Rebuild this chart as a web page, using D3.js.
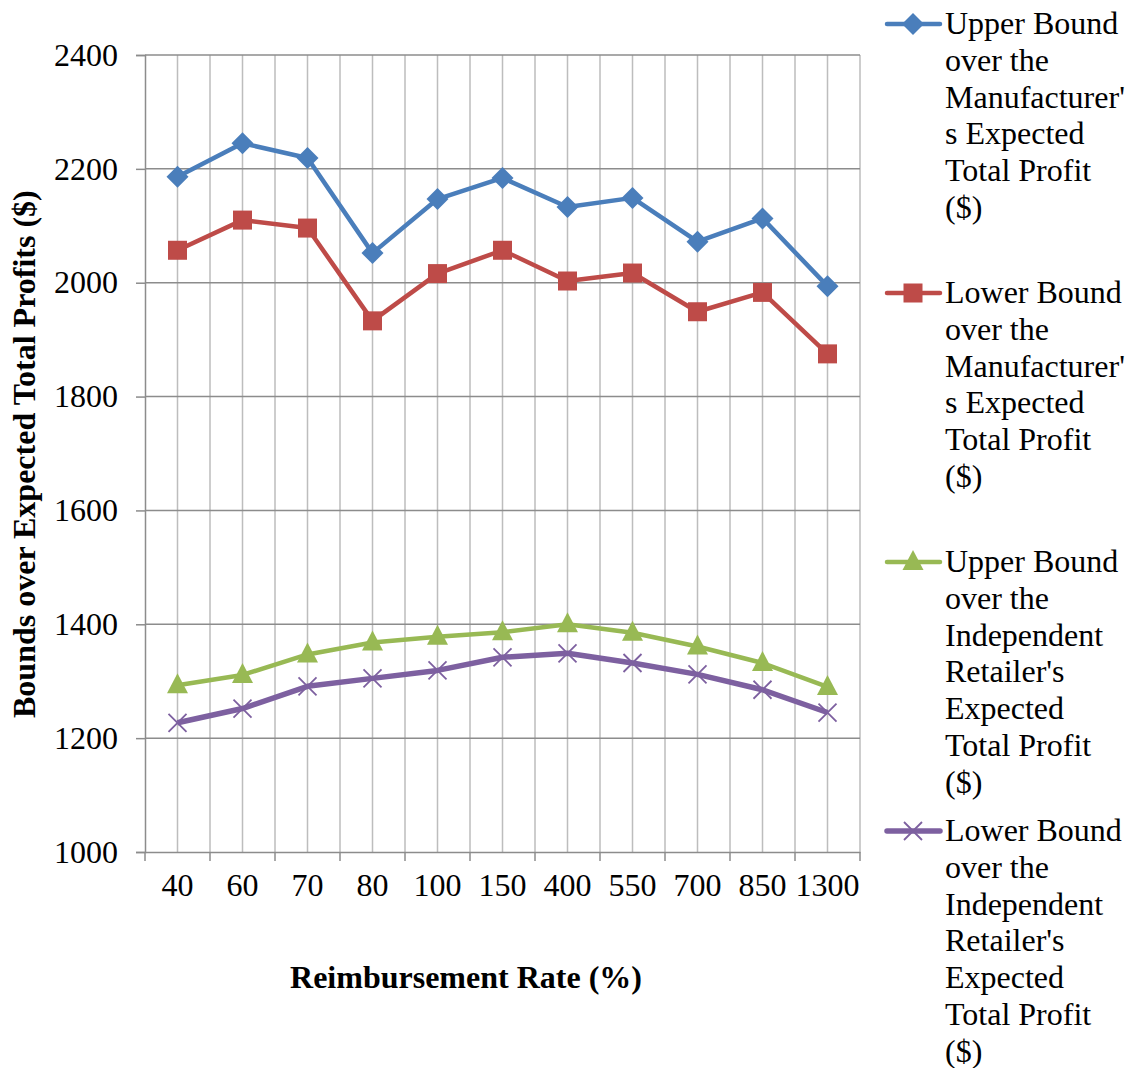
<!DOCTYPE html>
<html>
<head>
<meta charset="utf-8">
<script src="https://cdn.jsdelivr.net/npm/d3@7"></script>
<style>
  body { margin: 0; background: #fff; }
  text { font-family: "Liberation Serif", "Times New Roman", serif; fill: #000; }
</style>
</head>
<body>
<svg id="chart" width="1131" height="1068"></svg>
<script>
// data
var rates = ["40", "60", "70", "80", "100", "150", "400", "550", "700", "850", "1300"];
var upperManufacturer = [2186, 2245, 2219, 2052, 2147, 2184, 2133, 2149, 2072, 2113, 1994];
var lowerManufacturer = [2057, 2110, 2096, 1933, 2016, 2057, 2003, 2017, 1949, 1983, 1875];
var upperRetailer = [1293, 1311, 1347, 1368, 1378, 1386, 1400, 1385, 1361, 1332, 1290];
var lowerRetailer = [1227, 1252, 1291, 1305, 1319, 1342, 1349, 1332, 1312, 1285, 1245];
var yTicks = [1000, 1200, 1400, 1600, 1800, 2000, 2200, 2400];
var seriesNames = [
    ["Upper Bound", "over the", "Manufacturer'", "s Expected", "Total Profit", "($)"],
    ["Lower Bound", "over the", "Manufacturer'", "s Expected", "Total Profit", "($)"],
    ["Upper Bound", "over the", "Independent", "Retailer's", "Expected", "Total Profit", "($)"],
    ["Lower Bound", "over the", "Independent", "Retailer's", "Expected", "Total Profit", "($)"]
];

var series = [
    {values: upperManufacturer, color: "#4a7ebb", marker: "diamond", width: 4.5},
    {values: lowerManufacturer, color: "#be4b48", marker: "square", width: 4.5},
    {values: upperRetailer, color: "#98b954", marker: "triangle", width: 4.5},
    {values: lowerRetailer, color: "#7d60a0", marker: "x", width: 5.5}
];

var svg = d3.select("#chart");

var plotLeft = 145, plotRight = 860, plotTop = 55, plotBottom = 852;
var fontSize = "32px";

var x = d3.scaleBand().domain(rates).range([plotLeft, plotRight]);
var y = d3.scaleLinear().domain([1000, 2400]).range([plotBottom, plotTop]);

// vertical gridlines at category edges and centres
var vLines = [];
rates.forEach(function(r, i) {
    if (i > 0) vLines.push(x(r));
    vLines.push(x(r) + x.bandwidth() / 2);
});
vLines.push(plotRight);

svg.append("g").selectAll("line")
    .data(vLines)
    .enter().append("line")
    .attr("x1", function(d) { return d; })
    .attr("x2", function(d) { return d; })
    .attr("y1", plotTop)
    .attr("y2", plotBottom)
    .attr("stroke", "#bdbdbd")
    .attr("stroke-width", 1.5);

svg.append("g").selectAll("line")
    .data(yTicks.slice(1))
    .enter().append("line")
    .attr("x1", plotLeft)
    .attr("x2", plotRight)
    .attr("y1", function(d) { return y(d); })
    .attr("y2", function(d) { return y(d); })
    .attr("stroke", "#8c8c8c")
    .attr("stroke-width", 1.5);

// y axis
var yAxis = svg.append("g")
    .attr("transform", "translate(" + plotLeft + ",0)")
    .call(d3.axisLeft(y).tickValues(yTicks).tickSize(9).tickPadding(18).tickFormat(d3.format("d")));
yAxis.select(".domain").attr("stroke", "#8c8c8c").attr("stroke-width", 1.5);
yAxis.selectAll(".tick line").attr("stroke", "#8c8c8c").attr("stroke-width", 1.5);
yAxis.selectAll(".tick text")
    .style("font-family", "'Liberation Serif', serif")
    .style("font-size", fontSize)
    .attr("fill", "#000");

// x axis
var xAxis = svg.append("g")
    .attr("transform", "translate(0," + plotBottom + ")")
    .call(d3.axisBottom(x).tickSize(0).tickPadding(21));
xAxis.select(".domain").attr("stroke", "#8c8c8c").attr("stroke-width", 1.5);
xAxis.selectAll(".tick text")
    .style("font-family", "'Liberation Serif', serif")
    .style("font-size", fontSize)
    .attr("fill", "#000");
xAxis.append("g").selectAll("line")
    .data(rates.map(function(r) { return x(r); }).concat([plotRight]))
    .enter().append("line")
    .attr("x1", function(d) { return d; })
    .attr("x2", function(d) { return d; })
    .attr("y1", 0)
    .attr("y2", 9)
    .attr("stroke", "#8c8c8c")
    .attr("stroke-width", 1.5);

// axis titles
svg.append("text")
    .attr("transform", "translate(35,718) rotate(-90)")
    .attr("text-anchor", "start")
    .style("font-size", fontSize)
    .style("font-weight", "bold")
    .text("Bounds over Expected Total Profits ($)");

svg.append("text")
    .attr("x", 466)
    .attr("y", 988)
    .attr("text-anchor", "middle")
    .style("font-size", fontSize)
    .style("font-weight", "bold")
    .text("Reimbursement Rate (%)");

function drawMarker(g, type, color) {
    if (type === "diamond") {
        g.append("path").attr("d", "M0,-11L11,0L0,11L-11,0Z").attr("fill", color);
    } else if (type === "square") {
        g.append("rect").attr("x", -9.5).attr("y", -9.5).attr("width", 19).attr("height", 19).attr("fill", color);
    } else if (type === "triangle") {
        g.append("path").attr("d", "M0,-12L10.5,8L-10.5,8Z").attr("fill", color);
    } else {
        g.append("path").attr("d", "M-9,-9L9,9M-9,9L9,-9").attr("stroke", color).attr("stroke-width", 1.8).attr("fill", "none");
    }
}

var line = d3.line()
    .x(function(d, i) { return x(rates[i]) + x.bandwidth() / 2; })
    .y(function(d) { return y(d); });

series.forEach(function(s) {
    svg.append("path")
        .datum(s.values)
        .attr("d", line)
        .attr("fill", "none")
        .attr("stroke", s.color)
        .attr("stroke-width", s.width)
        .attr("stroke-linejoin", "round");

    s.values.forEach(function(v, i) {
        var g = svg.append("g")
            .attr("transform", "translate(" + (x(rates[i]) + x.bandwidth() / 2) + "," + y(v) + ")");
        drawMarker(g, s.marker, s.color);
    });
});

// legend
var legendTop = [24, 293, 562, 831];
var lineHeight = 36.8;
series.forEach(function(s, k) {
    var g = svg.append("g").attr("transform", "translate(0," + legendTop[k] + ")");
    g.append("line")
        .attr("x1", 887).attr("x2", 940)
        .attr("y1", 0).attr("y2", 0)
        .attr("stroke", s.color)
        .attr("stroke-width", s.width)
        .attr("stroke-linecap", "round");
    drawMarker(g.append("g").attr("transform", "translate(913,0)"), s.marker, s.color);
    g.selectAll("text")
        .data(seriesNames[k])
        .enter().append("text")
        .attr("x", 945)
        .attr("y", function(d, i) { return i * lineHeight + 10; })
        .style("font-size", fontSize)
        .text(function(d) { return d; });
});
</script>
</body>
</html>
